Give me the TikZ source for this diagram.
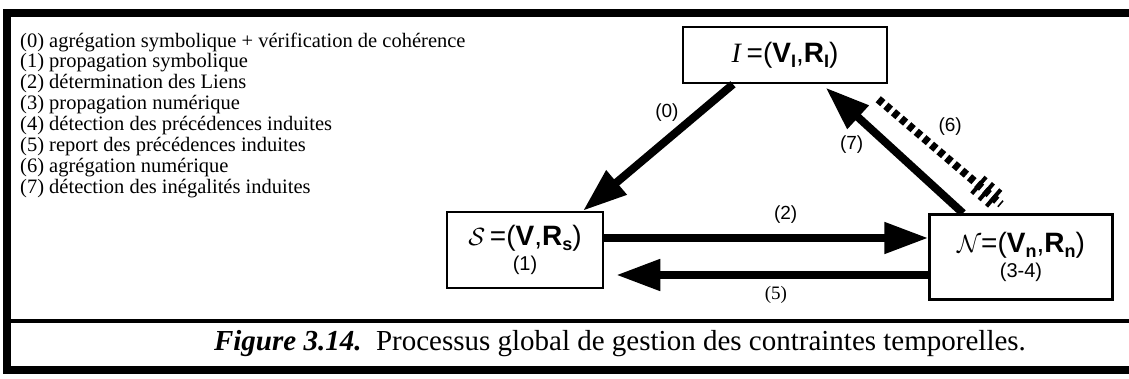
\documentclass[tikz,border=0pt]{standalone}
\usepackage{fontspec}
\setmainfont{Liberation Serif}
\setsansfont{Liberation Sans}
\usetikzlibrary{arrows.meta, positioning, calc}
\tikzstyle{etat} = [rectangle, draw=black, line width=2.5pt, fill=white, align=center, inner sep=0pt, font=\sffamily\fontsize{28}{28}\selectfont]
\tikzstyle{fl} = [-{Triangle[length=44pt, width=30pt]}, line width=8pt]
\tikzstyle{lab} = [font=\sffamily\fontsize{19}{21}\selectfont, inner sep=1pt]
\tikzstyle{leg} = [anchor=west, font=\fontsize{20.5}{21}\selectfont, inner sep=0pt]
\newcommand{\bsf}[1]{\textbf{#1}}
\newcommand{\ind}[1]{\raisebox{-0.35ex}{\fontsize{18}{18}\selectfont\textbf{#1}}}
\newcommand{\petit}{\fontsize{20}{22}\selectfont}

\begin{document}
\begin{tikzpicture}[x=1pt, y=-1pt]
  \useasboundingbox (0,0) rectangle (1129,379);
  % ---------- cadre ----------
  \draw[line width=8pt] (1129,13) -| (7,370) -- (1129,370);
  \draw[line width=4pt] (7,321) -- (1129,321);
  % ---------- legende ----------
  \foreach \i/\t in {0/{agrégation symbolique + vérification de cohérence},
                     1/{propagation symbolique},
                     2/{détermination des Liens},
                     3/{propagation numérique},
                     4/{détection des précédences induites},
                     5/{report des précédences induites},
                     6/{agrégation numérique},
                     7/{détection des inégalités induites}}
    \node[leg] (leg\i) at (20, {42+21*\i}) {(\i) \t};
  % ---------- etats ----------
  \node[etat, minimum width=204pt, minimum height=56pt] (I) at (785,55)
    {\textrm{\textit{I}}\,=(\bsf{V}\ind{I},\bsf{R}\ind{I})};
  \node[etat, minimum width=156pt, minimum height=76pt] (S) at (525,250)
    {$\mathcal{S}$\,=(\bsf{V},\bsf{R}\ind{s})\\[-3pt] {\petit (1)}};
  \node[etat, minimum width=183pt, minimum height=85pt] (N) at (1021,257)
    {$\mathcal{N}$=(\bsf{V}\ind{n},\bsf{R}\ind{n})\\[-3pt] {\petit (3-4)}};
  % ---------- fleches ----------
  \draw[fl] ([xshift=-52pt]I.south) -- ([xshift=58pt]S.north)
    node[lab, pos=.33, anchor=south east] (l0) {(0)};
  \draw[fl] ([yshift=12pt]S.east) -- ([yshift=12pt]S.east -| N.west)
    node[lab, pos=.56, above=10pt] (l2) {(2)};
  \draw[fl, shorten >=12pt] ([yshift=-18pt]N.west) -- ([yshift=-18pt]N.west -| S.east)
    node[lab, pos=.47, below=6pt, font=\fontsize{19}{21}\selectfont] (l5) {(5)};
  \draw[fl, shorten >=5pt] ([xshift=-58pt]N.north) -- ([xshift=37pt]I.south)
    node[lab, pos=.53, left=20pt] (l7) {(7)};
  % agregation numerique (pointilles + hachures)
  \coordinate (d6) at ($(I.south east)+(-10,15)$);
  \coordinate (f6) at ($(N.north)+(-20,-9)$);
  \draw[line width=8pt, dash pattern=on 6pt off 4pt] (d6) -- (f6)
    node[lab, pos=.45, anchor=south west, yshift=6pt] (l6) {(6)};
  \foreach \p in {.82,.88,.94}
    \draw[line width=4pt] ($($(d6)!\p!(f6)$)!11pt!90:(f6)$) -- ($($(d6)!\p!(f6)$)!11pt!-90:(f6)$);
  % ---------- legende de la figure ----------
  \node[font=\fontsize{29}{30}\selectfont] (cap) at (620,344)
    {\textbf{\textit{Figure 3.14.}}\ \ Processus global de gestion des contraintes temporelles.};
\end{tikzpicture}
\end{document}
